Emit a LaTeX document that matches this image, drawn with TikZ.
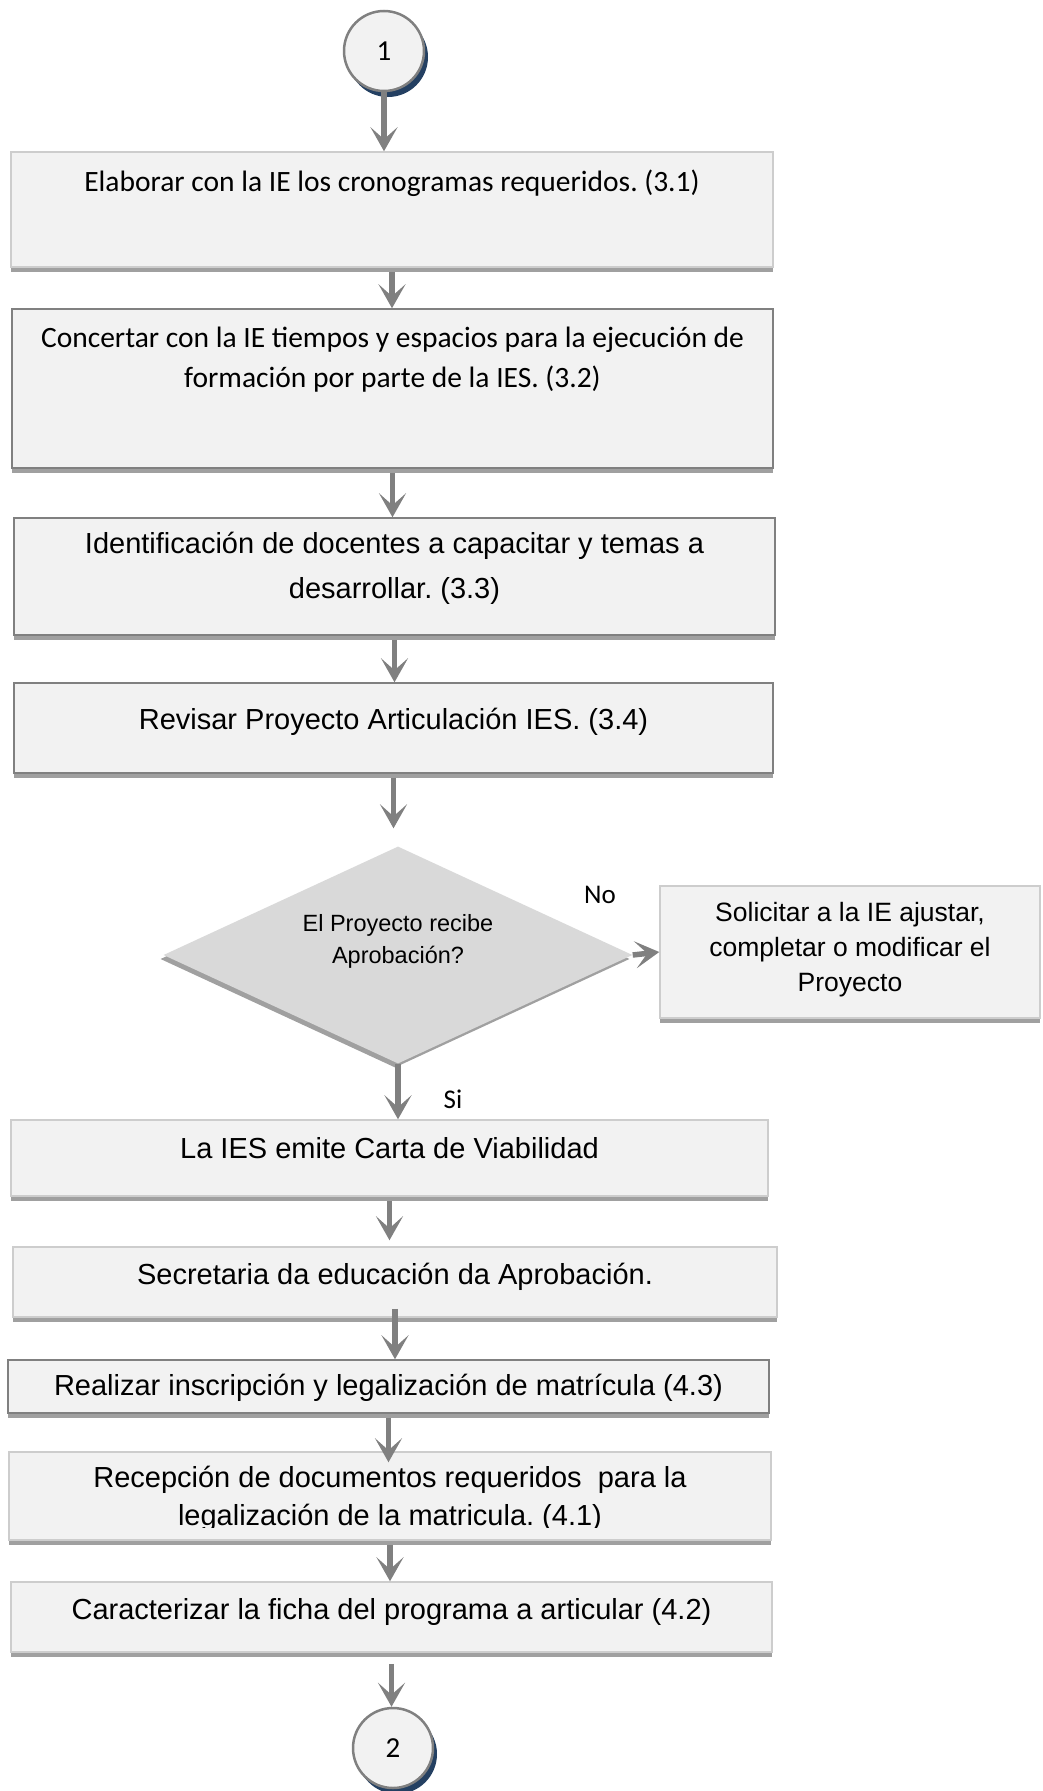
\documentclass[tikz,border=0pt]{standalone}
\usepackage{fontspec}
\setmainfont{Liberation Sans}
\newfontfamily\calfont{Carlito}
\usetikzlibrary{shapes.geometric,arrows.meta,shadows}
\definecolor{boxfill}{RGB}{242,242,242}
\definecolor{boxline}{RGB}{205,205,205}
\definecolor{darkline}{RGB}{128,128,128}
\definecolor{shade}{RGB}{160,160,160}
\definecolor{navy}{RGB}{36,64,98}
\definecolor{diafill}{RGB}{217,217,217}
\frenchspacing
\begin{document}
\begin{tikzpicture}[x=1pt, y=-1pt,
  box/.style={rectangle, fill=boxfill, draw=boxline, line width=1.5pt, inner sep=0pt,
    drop shadow={shadow xshift=0pt, shadow yshift=-5pt, fill=shade, opacity=1}},
  darkbox/.style={box, draw=darkline},
  conn/.style={circle, fill=boxfill, draw=darkline, line width=2.5pt, minimum size=80pt, inner sep=0pt,
    font=\calfont\fontsize{29}{34}\selectfont,
    drop shadow={shadow xshift=4pt, shadow yshift=-6pt, fill=navy, opacity=1}},
  decision/.style={diamond, aspect=2.16, fill=diafill, inner sep=0pt, minimum width=469pt, minimum height=217pt,
    drop shadow={shadow xshift=-3pt, shadow yshift=-4pt, fill=shade, opacity=1}},
  caltext/.style={align=center, inner sep=0pt, font=\calfont\fontsize{29.5}{40}\selectfont},
  arialtext/.style={align=center, inner sep=0pt, font=\fontsize{29}{45}\selectfont},
  flow/.style={draw=darkline, line width=5.5pt, -{Stealth[length=24pt,width=27pt,inset=12pt]}}
]
\useasboundingbox (0,0) rectangle (1042,1791);
% start connector
\node[conn] (c1) at (384,51) {1};
% process boxes
\node[box, minimum width=762pt, minimum height=115pt] (b1) at (392,209.5) {};
\node[caltext] (t1) at (392,183) {Elaborar con la IE los cronogramas requeridos. (3.1)};
\node[darkbox, minimum width=761pt, minimum height=159pt] (b2) at (392.5,388.5) {};
\node[caltext] (t2) at (392.5,360) {Concertar con la IE tiempos y espacios para la ejecución de\\formación por parte de la IES. (3.2)};
\node[darkbox, minimum width=761pt, minimum height=117pt] (b3) at (394.5,576.5) {};
\node[arialtext] (t3) at (394.5,568) {Identificación de docentes a capacitar y temas a\\desarrollar. (3.3)};
\node[darkbox, minimum width=759pt, minimum height=90pt] (b4) at (393.5,728) {};
\node[arialtext] (t4) at (393.5,722) {Revisar Proyecto Articulación IES. (3.4)};
% decision
\node[decision] (d) at (398,955) {};
\node[align=center, inner sep=0pt, font=\fontsize{23.5}{32}\selectfont] (dt) at (398,941) {El Proyecto recibe\\Aprobación?};
\node[box, minimum width=380pt, minimum height=132pt] (b5) at (850,952) {};
\node[align=center, inner sep=0pt, font=\fontsize{26.5}{35}\selectfont] (t5) at (850,950) {Solicitar a la IE ajustar,\\completar o modificar el\\Proyecto};
\node[box, minimum width=757pt, minimum height=76pt] (b6) at (389.5,1158) {};
\node[arialtext] (t6) at (389.5,1148) {La IES emite Carta de Viabilidad};
\node[box, minimum width=764pt, minimum height=70pt] (b7) at (395,1282) {};
\node[arialtext] (t7) at (395,1277) {Secretaria da educación da Aprobación.};
\node[darkbox, minimum width=761pt, minimum height=53pt] (b8) at (388.5,1386.5) {};
\node[arialtext] (t8) at (388.5,1388) {Realizar inscripción y legalización de matrícula (4.3)};
\node[box, minimum width=762pt, minimum height=88pt] (b9) at (390,1496) {};
\begin{scope}
\clip (b9.north west) rectangle (772,1527);
\node[arialtext, font=\fontsize{29}{38}\selectfont] (t9) at (390,1499) {Recepción de documentos requeridos~ para la\\legalización de la matricula. (4.1)};
\end{scope}
\node[box, minimum width=761pt, minimum height=70pt] (b10) at (391.5,1617) {};
\node[arialtext] (t10) at (391.5,1612) {Caracterizar la ficha del programa a articular (4.2)};
% end connector
\node[conn] (c2) at (393,1748) {2};
% labels
\node[font=\calfont\fontsize{27}{32}\selectfont] (no) at (600,895) {No};
\node[font=\calfont\fontsize{27}{32}\selectfont] (si) at (453,1099) {Si};
% arrows
\draw[flow] (c1.south) -- (c1.south |- b1.north);
\draw[flow, shorten <=4pt] (b1.south) -- (b1.south |- b2.north);
\draw[flow, shorten <=4pt] (b2.south) -- (b2.south |- b3.north);
\draw[flow, shorten <=4pt] (b3.south) -- (b3.south |- b4.north);
\draw[flow, shorten <=4pt, shorten >=18pt] (b4.south) -- (b4.south |- d.north);
\draw[flow] (d.east) -- (b5.west);
\draw[flow] (d.south) -- (d.south |- b6.north);
\draw[flow, shorten <=4pt, shorten >=6pt] (b6.south) -- (b6.south |- b7.north);
\draw[flow, shorten <=-9pt] (b7.south) -- (b7.south |- b8.north);
\draw[flow, shorten <=4pt, shorten >=-11pt] (b8.south) -- (b8.south |- b9.north);
\draw[flow, shorten <=4pt] (b9.south) -- (b9.south |- b10.north);
\draw[flow, shorten <=11pt] (b10.south) -- (b10.south |- c2.north);
\end{tikzpicture}
\end{document}
